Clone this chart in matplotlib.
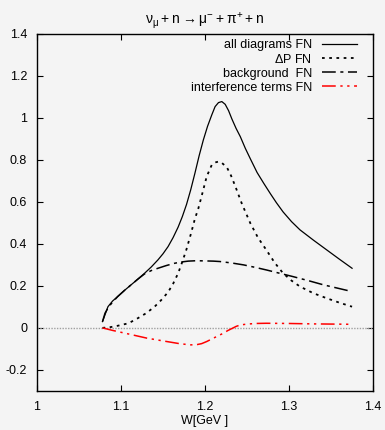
import numpy as np
import matplotlib
matplotlib.use("Agg")
import matplotlib.pyplot as plt

plt.rcParams["font.family"] = ["Liberation Sans", "DejaVu Sans"]
plt.rcParams["mathtext.default"] = "regular"

# values
w_all = [1.078, 1.0845, 1.090, 1.096, 1.104, 1.112, 1.120, 1.128, 1.136, 1.144,
         1.150, 1.156, 1.162, 1.168, 1.173, 1.178, 1.183, 1.188, 1.193, 1.198,
         1.203, 1.208, 1.212, 1.216, 1.220, 1.224, 1.228, 1.232, 1.237, 1.242,
         1.248, 1.254, 1.262, 1.270, 1.278, 1.285, 1.293, 1.303, 1.313, 1.329,
         1.345, 1.360, 1.375]
all_fn = [0.030, 0.101, 0.128, 0.149, 0.178, 0.205, 0.232, 0.260, 0.290, 0.324,
          0.353, 0.387, 0.430, 0.480, 0.530, 0.588, 0.658, 0.737, 0.820, 0.895,
          0.960, 1.014, 1.054, 1.073, 1.078, 1.065, 1.035, 0.995, 0.950, 0.911,
          0.855, 0.805, 0.740, 0.688, 0.638, 0.596, 0.552, 0.506, 0.467, 0.418,
          0.371, 0.327, 0.284]

w_dp = [1.078, 1.088, 1.096, 1.109, 1.120, 1.130, 1.140, 1.148, 1.156, 1.162,
        1.168, 1.173, 1.178, 1.183, 1.188, 1.192, 1.196, 1.202, 1.208, 1.212,
        1.216, 1.220, 1.226, 1.231, 1.236, 1.244, 1.254, 1.263, 1.273, 1.283,
        1.293, 1.303, 1.313, 1.329, 1.345, 1.360, 1.375]
dp_fn = [0.0, 0.004, 0.010, 0.022, 0.046, 0.070, 0.101, 0.133, 0.170, 0.210,
         0.260, 0.315, 0.375, 0.445, 0.520, 0.568, 0.628, 0.721, 0.776, 0.788,
         0.792, 0.786, 0.765, 0.725, 0.675, 0.590, 0.498, 0.430, 0.371, 0.310,
         0.260, 0.225, 0.197, 0.165, 0.141, 0.120, 0.101]

w_bg = [1.078, 1.081, 1.085, 1.089, 1.096, 1.104, 1.112, 1.120, 1.128, 1.136,
        1.144, 1.154, 1.164, 1.172, 1.180, 1.190, 1.200, 1.210, 1.218, 1.232,
        1.246, 1.260, 1.273, 1.289, 1.305, 1.323, 1.341, 1.358, 1.375]
bg_fn = [0.030, 0.070, 0.098, 0.118, 0.149, 0.178, 0.205, 0.232, 0.257, 0.273,
         0.284, 0.297, 0.308, 0.314, 0.318, 0.320, 0.319, 0.318, 0.316, 0.309,
         0.300, 0.288, 0.276, 0.260, 0.244, 0.225, 0.205, 0.189, 0.173]

w_int = [1.078, 1.090, 1.110, 1.131, 1.150, 1.168, 1.182, 1.190, 1.196, 1.202,
         1.207, 1.212, 1.217, 1.222, 1.227, 1.232, 1.237, 1.242, 1.250, 1.260,
         1.273, 1.300, 1.329, 1.355, 1.375]
int_fn = [0.0, -0.012, -0.030, -0.049, -0.062, -0.074, -0.081, -0.080, -0.075,
          -0.065, -0.055, -0.045, -0.035, -0.025, -0.013, -0.003, 0.007, 0.014,
          0.018, 0.021, 0.022, 0.021, 0.019, 0.018, 0.017]

xticks = [1.0, 1.1, 1.2, 1.3, 1.4]
xlabels = ["1", "1.1", "1.2", "1.3", "1.4"]
yticks = [-0.2, 0.0, 0.2, 0.4, 0.6, 0.8, 1.0, 1.2, 1.4]
ylabels = ["-0.2", "0", "0.2", "0.4", "0.6", "0.8", "1", "1.2", "1.4"]

bg = "#f4f4f4"
fs = 9
fig = plt.figure(figsize=(3.85, 4.3), dpi=100, facecolor=bg)
ax = fig.add_axes([0.096, 0.091, 0.873, 0.830], facecolor=bg)

ax.axhline(0, color="#a0a0a0", lw=1, ls=(0, (1, 1)))
ax.plot(w_all, all_fn, color="black", lw=0.9, label="all diagrams FN")
ax.plot(w_dp, dp_fn, color="black", lw=1.3, ls=(0, (1.5, 2.5)), label=r"$\Delta$P FN")
ax.plot(w_bg, bg_fn, color="black", lw=1.1, ls=(0, (9, 3, 2, 3)), label="background  FN")
ax.plot(w_int, int_fn, color="red", lw=1.1, ls=(0, (9, 3, 1.5, 3, 1.5, 3)),
        label="interference terms FN")

ax.set_xlim(1.0, 1.4)
ax.set_ylim(-0.3, 1.4)
ax.set_xticks(xticks)
ax.set_xticklabels(xlabels)
ax.set_yticks(yticks)
ax.set_yticklabels(ylabels)
ax.tick_params(direction="in", length=4, width=0.8, top=True, right=True,
               labelsize=fs, pad=7, colors="black")
for s in ax.spines.values():
    s.set_linewidth(1.0)

ax.set_xlabel("W[GeV ]", fontsize=fs, labelpad=2)
ax.set_title(r"$\nu_{\mu} + n \rightarrow \mu^{-} + \pi^{+} + n$", fontsize=10, pad=7)

ax.legend(loc="upper right", bbox_to_anchor=(0.967, 1.0), frameon=False,
          markerfirst=False, fontsize=fs, handlelength=2.8, labelspacing=0.15,
          borderaxespad=0.0, handletextpad=0.8)

fig.savefig("out.png", dpi=100, facecolor=bg)
